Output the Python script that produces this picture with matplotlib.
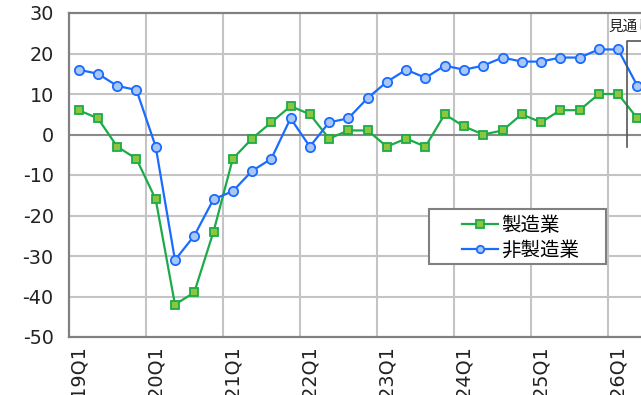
import matplotlib
matplotlib.use("Agg")
import matplotlib.pyplot as plt
from matplotlib.patches import Rectangle

plt.rcParams['font.family'] = ['DejaVu Sans', 'Noto Sans CJK JP']
plt.rcParams['axes.unicode_minus'] = False

# Quarterly DI, 2019Q1 - 2026Q2 (last point is the outlook)
quarters = [f"{y}Q{q}" for y in range(2019, 2027) for q in range(1, 5)][:30]
tick_labels = [q if q.endswith("Q1") else "" for q in quarters]
manufacturing = [6, 4, -3, -6, -16, -42, -39, -24, -6, -1, 3, 7, 5, -1, 1, 1,
                 -3, -1, -3, 5, 2, 0, 1, 5, 3, 6, 6, 10, 10, 4]
non_manufacturing = [16, 15, 12, 11, -3, -31, -25, -16, -14, -9, -6, 4, -3, 3, 4, 9,
                     13, 16, 14, 17, 16, 17, 19, 18, 18, 19, 19, 21, 21, 12]
y_ticks = list(range(-50, 31, 10))

W, H = 641, 395
fig = plt.figure(figsize=(W / 100, H / 100), dpi=100)
# plot area runs past the right edge of the figure
ax = fig.add_axes([69 / W, (H - 337) / H, (647 - 69) / W, 324 / H])

x = list(range(len(quarters)))
ax.plot(x, manufacturing, color="#1cab48", lw=1.6, marker="s", ms=6.4,
        mfc="#8cc63f", mec="#1cab48", mew=1.3, label="製造業", zorder=3)
ax.plot(x, non_manufacturing, color="#1a6cff", lw=1.6, marker="o", ms=6.7,
        mfc="#a9c6f5", mec="#1a6cff", mew=1.3, label="非製造業", zorder=3)

ax.set_xlim(-0.5, len(quarters) - 0.5)
ax.set_ylim(-50, 30)
ax.set_yticks(y_ticks)
ax.set_xticks(x)
ax.set_xticklabels(tick_labels, rotation=90, va="top", ha="center")
ax.tick_params(length=0, labelsize=13.8, labelcolor="#222222")
ax.tick_params(axis="y", pad=11)
ax.tick_params(axis="x", pad=6)

# vertical grid on category boundaries at each Q1
for i in range(4, len(quarters), 4):
    ax.axvline(i - 0.5, color="#c4c4c4", lw=1.5, zorder=1)
for v in y_ticks:
    if v not in (-50, 30, 0):
        ax.axhline(v, color="#c4c4c4", lw=1.5, zorder=1)
ax.axhline(0, color="#8a8a8a", lw=1.5, zorder=2)

for side in ["left", "bottom", "top"]:
    ax.spines[side].set_color("#808080")
    ax.spines[side].set_linewidth(1.6)
ax.spines["right"].set_visible(False)

# outlook bracket
ax.plot([28.45, 28.45, 29.6], [-3, 23.2, 23.2], color="#555555", lw=1.2,
        clip_on=False, zorder=4)
ax.text(27.5, 26.8, "見通し", fontsize=10.5, ha="left", va="center", color="#222222")

# legend with a wide frame drawn separately
ax.add_patch(Rectangle((429 / W, 1 - 264 / H), (606 - 429) / W, 55 / H,
                       transform=fig.transFigure, fill=True, fc="white",
                       ec="#808080", lw=1.5, zorder=5, clip_on=False))
leg = ax.legend(loc="center left", bbox_to_anchor=(462 / W, 1 - 237.5 / H),
                bbox_transform=fig.transFigure, fontsize=14, frameon=False,
                handlelength=1.85, handletextpad=0.15, borderpad=0,
                labelspacing=0.3, borderaxespad=0, markerscale=0.8)
leg.set_zorder(6)

fig.savefig("out.png", dpi=100)
